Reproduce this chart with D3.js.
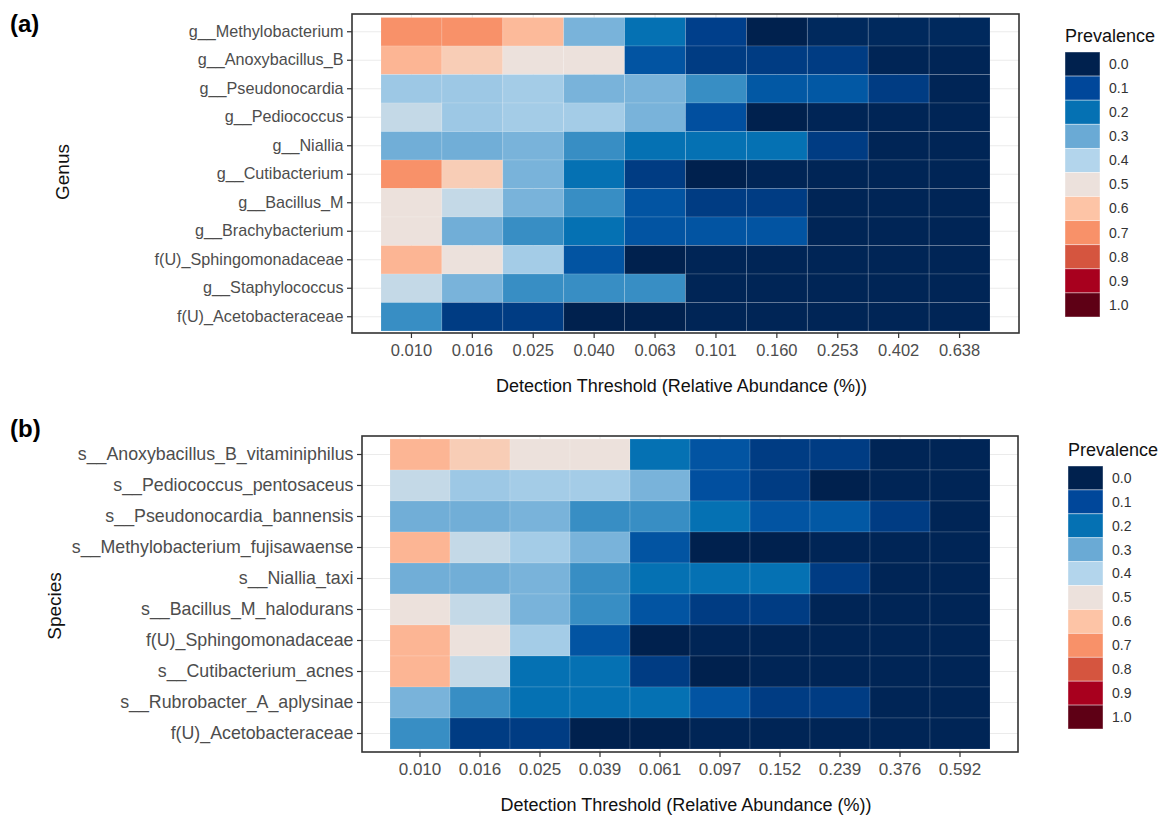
<!DOCTYPE html>
<html>
<head>
<meta charset="utf-8">
<script src="https://cdn.jsdelivr.net/npm/d3@7"></script>
<style>
  body { margin: 0; background: #fff; }
  svg { font-family: "Liberation Sans", Arial, sans-serif; }
</style>
</head>
<body>
<div id="chart"></div>
<script>
// ---- data ----
const genera = ["g__Methylobacterium", "g__Anoxybacillus_B", "g__Pseudonocardia", "g__Pediococcus",
    "g__Niallia", "g__Cutibacterium", "g__Bacillus_M", "g__Brachybacterium",
    "f(U)_Sphingomonadaceae", "g__Staphylococcus", "f(U)_Acetobacteraceae"];
const thresholdsA = ["0.010", "0.016", "0.025", "0.040", "0.063", "0.101", "0.160", "0.253", "0.402", "0.638"];
const prevalenceA = [
    [0.70, 0.70, 0.62, 0.32, 0.20, 0.08, 0.00, 0.02, 0.02, 0.02],
    [0.63, 0.57, 0.50, 0.50, 0.13, 0.07, 0.07, 0.07, 0.01, 0.01],
    [0.37, 0.37, 0.38, 0.32, 0.32, 0.25, 0.14, 0.14, 0.07, 0.01],
    [0.43, 0.37, 0.38, 0.38, 0.32, 0.12, 0.00, 0.01, 0.01, 0.01],
    [0.31, 0.31, 0.32, 0.25, 0.20, 0.20, 0.20, 0.07, 0.01, 0.01],
    [0.70, 0.57, 0.32, 0.20, 0.07, 0.00, 0.01, 0.01, 0.01, 0.01],
    [0.50, 0.43, 0.32, 0.25, 0.13, 0.07, 0.07, 0.01, 0.01, 0.01],
    [0.50, 0.31, 0.25, 0.20, 0.13, 0.13, 0.13, 0.01, 0.01, 0.01],
    [0.63, 0.50, 0.38, 0.13, 0.00, 0.01, 0.01, 0.01, 0.01, 0.01],
    [0.43, 0.32, 0.25, 0.25, 0.25, 0.01, 0.01, 0.01, 0.01, 0.01],
    [0.25, 0.07, 0.07, 0.00, 0.00, 0.01, 0.01, 0.01, 0.01, 0.01]
];

const species = ["s__Anoxybacillus_B_vitaminiphilus", "s__Pediococcus_pentosaceus", "s__Pseudonocardia_bannensis",
    "s__Methylobacterium_fujisawaense", "s__Niallia_taxi", "s__Bacillus_M_halodurans",
    "f(U)_Sphingomonadaceae", "s__Cutibacterium_acnes", "s__Rubrobacter_A_aplysinae", "f(U)_Acetobacteraceae"];
const thresholdsB = ["0.010", "0.016", "0.025", "0.039", "0.061", "0.097", "0.152", "0.239", "0.376", "0.592"];
const prevalenceB = [
    [0.63, 0.57, 0.50, 0.50, 0.20, 0.13, 0.07, 0.07, 0.01, 0.01],
    [0.43, 0.37, 0.38, 0.38, 0.32, 0.12, 0.07, 0.00, 0.01, 0.01],
    [0.31, 0.31, 0.32, 0.25, 0.25, 0.20, 0.13, 0.14, 0.07, 0.01],
    [0.63, 0.43, 0.38, 0.32, 0.13, 0.00, 0.00, 0.01, 0.01, 0.01],
    [0.31, 0.31, 0.32, 0.25, 0.20, 0.20, 0.20, 0.07, 0.01, 0.01],
    [0.50, 0.43, 0.32, 0.25, 0.13, 0.07, 0.07, 0.01, 0.01, 0.01],
    [0.63, 0.50, 0.38, 0.13, 0.00, 0.01, 0.01, 0.01, 0.01, 0.01],
    [0.63, 0.43, 0.20, 0.20, 0.07, 0.00, 0.01, 0.01, 0.01, 0.01],
    [0.32, 0.25, 0.20, 0.20, 0.20, 0.13, 0.07, 0.07, 0.01, 0.01],
    [0.25, 0.07, 0.07, 0.00, 0.00, 0.01, 0.01, 0.01, 0.01, 0.01]
];

const legendValues = [0.0, 0.1, 0.2, 0.3, 0.4, 0.5, 0.6, 0.7, 0.8, 0.9, 1.0];
const legendLabels = ["0.0", "0.1", "0.2", "0.3", "0.4", "0.5", "0.6", "0.7", "0.8", "0.9", "1.0"];
const legendColors = ["#00214e", "#00479a", "#0571b3", "#6aaad5", "#b3d5ec", "#ece1dc",
    "#fdc4a6", "#f89169", "#d5553f", "#a8001e", "#5e0015"];

// ---- drawing ----
const W = 1163, H = 822;
const svg = d3.select("#chart").append("svg")
    .attr("width", W)
    .attr("height", H);

const color = d3.scaleLinear()
    .domain(legendValues)
    .range(legendColors)
    .clamp(true);

function drawPanel(p) {
    let g = svg.append("g");

    let x = d3.scaleBand()
        .domain(p.cols)
        .range([p.left + p.padX, p.right - p.padX]);
    let y = d3.scaleBand()
        .domain(p.rows)
        .range([p.top + p.padTop, p.bottom - p.padBottom]);

    // panel grid
    g.selectAll(".hgrid").data(p.rows).enter()
        .append("line")
        .attr("x1", p.left).attr("x2", p.right)
        .attr("y1", d => y(d) + y.bandwidth() / 2)
        .attr("y2", d => y(d) + y.bandwidth() / 2)
        .attr("stroke", "#ebebeb").attr("stroke-width", 1.2);
    g.selectAll(".vgrid").data(p.cols).enter()
        .append("line")
        .attr("y1", p.top).attr("y2", p.bottom)
        .attr("x1", d => x(d) + x.bandwidth() / 2)
        .attr("x2", d => x(d) + x.bandwidth() / 2)
        .attr("stroke", "#ebebeb").attr("stroke-width", 1.2);

    // tiles
    let cells = [];
    p.rows.forEach((r, i) => p.cols.forEach((c, j) => cells.push({row: r, col: c, value: p.values[i][j]})));
    g.selectAll(".tile").data(cells).enter()
        .append("rect")
        .attr("class", "tile")
        .attr("x", d => x(d.col))
        .attr("y", d => y(d.row))
        .attr("width", x.bandwidth())
        .attr("height", y.bandwidth())
        .attr("fill", d => color(d.value))
        .attr("stroke", "rgba(255,255,255,0.18)")
        .attr("stroke-width", 0.8);

    // border
    g.append("rect")
        .attr("x", p.left).attr("y", p.top)
        .attr("width", p.right - p.left).attr("height", p.bottom - p.top)
        .attr("fill", "none").attr("stroke", "#333").attr("stroke-width", 1.6);

    // axes
    let yAxis = g.append("g")
        .attr("transform", `translate(${p.left},0)`)
        .call(d3.axisLeft(y).tickSize(5).tickPadding(3.5));
    let xAxis = g.append("g")
        .attr("transform", `translate(0,${p.bottom})`)
        .call(d3.axisBottom(x).tickSize(5).tickPadding(6));
    [yAxis, xAxis].forEach(a => {
        a.select(".domain").remove();
        a.selectAll(".tick line").attr("stroke", "#333").attr("stroke-width", 1.2);
        a.selectAll(".tick text").attr("fill", "#4d4d4d");
    });
    yAxis.selectAll(".tick text").style("font-size", p.yFont + "px");
    xAxis.selectAll(".tick text").style("font-size", p.xFont + "px");

    g.append("text")
        .attr("x", (p.left + p.right) / 2 - 4)
        .attr("y", p.bottom + 59)
        .attr("text-anchor", "middle")
        .style("font-size", "18px")
        .attr("fill", "#111")
        .text("Detection Threshold (Relative Abundance (%))");

    g.append("text")
        .attr("transform", `translate(${p.yTitleX},${p.yTitleY}) rotate(-90)`)
        .attr("text-anchor", "middle")
        .style("font-size", "19px")
        .attr("fill", "#111")
        .text(p.yTitle);

    g.append("text")
        .attr("x", 10).attr("y", p.tagY)
        .style("font-size", "24px")
        .style("font-weight", "bold")
        .attr("fill", "#000")
        .text(p.tag);

    // legend
    let leg = g.append("g").attr("transform", `translate(${p.legX},${p.legY})`);
    leg.append("text")
        .attr("x", 0).attr("y", -10)
        .style("font-size", "18px")
        .attr("fill", "#111")
        .text("Prevalence");
    let ly = d3.scaleBand().domain(legendLabels).range([0, p.legH]);
    leg.selectAll(".key").data(legendLabels).enter()
        .append("rect")
        .attr("x", 0)
        .attr("y", d => ly(d))
        .attr("width", 35)
        .attr("height", ly.bandwidth())
        .attr("fill", (d, i) => legendColors[i])
        .attr("stroke", "rgba(255,255,255,0.5)")
        .attr("stroke-width", 0.8);
    leg.selectAll(".lab").data(legendLabels).enter()
        .append("text")
        .attr("x", 44)
        .attr("y", d => ly(d) + ly.bandwidth() / 2)
        .attr("dy", "0.35em")
        .style("font-size", "14px")
        .attr("fill", "#333")
        .text(d => d);
}

drawPanel({
    rows: genera, cols: thresholdsA, values: prevalenceA,
    left: 352, right: 1019, top: 14, bottom: 333,
    padX: 29, padTop: 3.5, padBottom: 2,
    yFont: 16.2, xFont: 16.5,
    yTitle: "Genus", yTitleX: 69, yTitleY: 172,
    tag: "(a)", tagY: 32,
    legX: 1065, legY: 52, legH: 265
});

drawPanel({
    rows: species, cols: thresholdsB, values: prevalenceB,
    left: 362, right: 1018, top: 436, bottom: 752,
    padX: 28, padTop: 3, padBottom: 3,
    yFont: 17.8, xFont: 17,
    yTitle: "Species", yTitleX: 61, yTitleY: 606,
    tag: "(b)", tagY: 437,
    legX: 1068, legY: 466, legH: 263
});
</script>
</body>
</html>
